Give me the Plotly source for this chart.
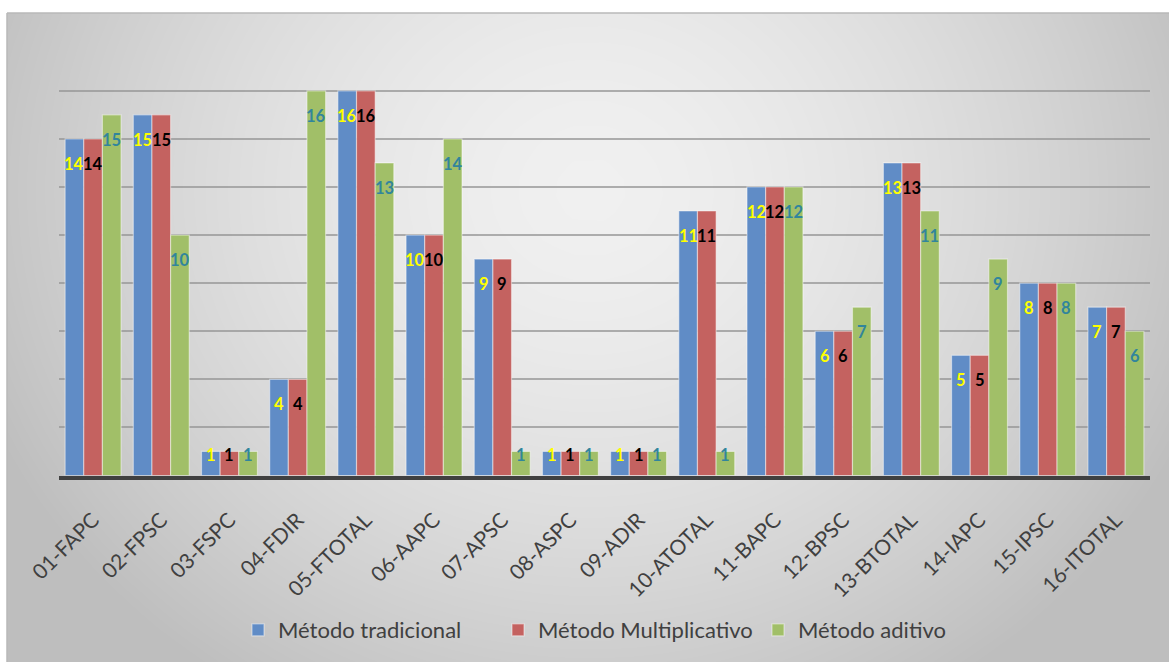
import numpy as np
import plotly.graph_objects as go

categories = ["01-FAPC", "02-FPSC", "03-FSPC", "04-FDIR", "05-FTOTAL", "06-AAPC",
              "07-APSC", "08-ASPC", "09-ADIR", "10-ATOTAL", "11-BAPC", "12-BPSC",
              "13-BTOTAL", "14-IAPC", "15-IPSC", "16-ITOTAL"]
tradicional = [14, 15, 1, 4, 16, 10, 9, 1, 1, 11, 12, 6, 13, 5, 8, 7]
multiplicativo = [14, 15, 1, 4, 16, 10, 9, 1, 1, 11, 12, 6, 13, 5, 8, 7]
aditivo = [15, 10, 1, 16, 13, 14, 1, 1, 1, 1, 12, 7, 11, 9, 8, 6]
series_names = ["Método tradicional", "Método Multiplicativo", "Método aditivo"]

W, H = 1169, 662
FONT = "Lato, sans-serif"

bar_colors = ["rgb(96,140,198)", "rgb(196,98,96)", "rgb(161,191,104)"]
label_colors = ["#FFFF00", "#000000", "#31859C"]

fig = go.Figure()

# background radial gradient (styling only)
gx = np.linspace(7, W, 40)
gy = np.linspace(13, H, 40)
GX, GY = np.meshgrid(gx, gy)
r = np.sqrt(((GX - 590) / 620) ** 2 + ((GY - 190) / 560) ** 2)
z = 240 - 46 * np.clip(r, 0, 1.3) ** 1.6
fig.add_trace(go.Heatmap(x=gx, y=gy, z=z, zsmooth="best", showscale=False,
                         colorscale=[[0, "rgb(190,190,190)"], [1, "rgb(241,241,241)"]],
                         zmin=190, zmax=241, hoverinfo="skip", xaxis="x", yaxis="y"))

for name, vals, col in zip(series_names, [tradicional, multiplicativo, aditivo], bar_colors):
    fig.add_trace(go.Bar(x=categories, y=vals, name=name, xaxis="x2", yaxis="y2",
                         marker=dict(color=col, line=dict(color="rgba(255,255,255,0.45)", width=1.2))))

x0, x1 = 59, 1150
y_zero, y_top = 475.5, 42.7
cat_w = (x1 - x0) / len(categories)
bargap = 0.18
bar_w = cat_w * (1 - bargap) / 3

annotations = []
for s, (vals, lc) in enumerate(zip([tradicional, multiplicativo, aditivo], label_colors)):
    for c, v in zip(categories, vals):
        annotations.append(dict(x=c, y=v, xref="x2", yref="y2", text=f"<b>{v}</b>",
                                showarrow=False, xshift=(s - 1) * bar_w,
                                yshift=-25 if v > 1 else -4,
                                font=dict(family=FONT, size=16.5, color=lc),
                                xanchor="center", yanchor="middle"))

fig.update_layout(
    width=W, height=H,
    margin=dict(l=0, r=0, t=0, b=0, autoexpand=False),
    paper_bgcolor="white",
    plot_bgcolor="rgba(0,0,0,0)",
    barmode="group", bargap=bargap, bargroupgap=0,
    font=dict(family=FONT, color="#404040"),
    xaxis=dict(domain=[7 / W, 1], range=[7, W], visible=False, fixedrange=True, automargin=False),
    yaxis=dict(domain=[0, (H - 13) / H], range=[H, 13], visible=False, fixedrange=True, automargin=False),
    xaxis2=dict(domain=[x0 / W, x1 / W], anchor="y2", showline=True, linewidth=4,
                linecolor="#404040", ticks="", showgrid=False, tickangle=-45, automargin=False,
                ticklabelstandoff=20,
                tickfont=dict(family=FONT, size=21, color="#404040")),
    yaxis2=dict(domain=[(H - y_zero) / H, (H - y_top) / H], anchor="x2", range=[0, 18],
                dtick=2, showticklabels=False, showgrid=True, automargin=False,
                gridcolor="rgba(150,150,150,0.75)", gridwidth=1.5, zeroline=False, showline=False),
    showlegend=True,
    legend=dict(orientation="h", x=238 / W, xanchor="left", y=(H - 630) / H, yanchor="middle",
                bgcolor="rgba(0,0,0,0)", font=dict(family=FONT, size=22, color="#404040"),
                itemwidth=30, entrywidth=215),
    annotations=annotations,
    shapes=[
        dict(type="rect", xref="paper", yref="paper", x0=211 / W, x1=976 / W,
             y0=(H - 653) / H, y1=(H - 608) / H, fillcolor="rgba(232,232,232,0.75)",
             line=dict(width=0), layer="below"),
        dict(type="line", xref="paper", yref="paper", x0=7 / W, x1=1, y0=(H - 13) / H, y1=(H - 13) / H,
             line=dict(color="#b8b8b8", width=1.5)),
        dict(type="line", xref="paper", yref="paper", x0=7 / W, x1=7 / W, y0=0, y1=(H - 13) / H,
             line=dict(color="#b8b8b8", width=1.5)),
    ],
)

fig.write_html("out.html")
